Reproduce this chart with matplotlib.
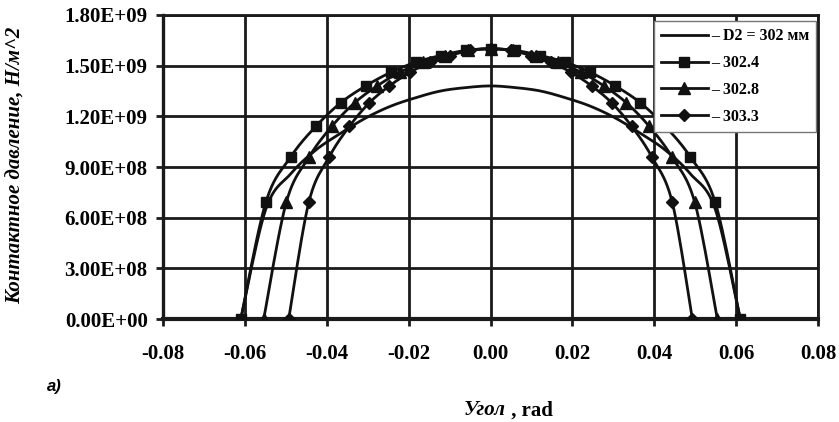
import numpy as np
import matplotlib
matplotlib.use("Agg")
import matplotlib.pyplot as plt

# values
sq_x = [-0.0610, -0.0549, -0.0488, -0.0427, -0.0366, -0.0305, -0.0244, -0.0183, -0.0122, -0.0061, 0.0,
        0.0061, 0.0122, 0.0183, 0.0244, 0.0305, 0.0366, 0.0427, 0.0488, 0.0549, 0.0610]
tri_x = [-0.0554, -0.0499, -0.0443, -0.0388, -0.0332, -0.0277, -0.0222, -0.0166, -0.0111, -0.0055, 0.0,
         0.0055, 0.0111, 0.0166, 0.0222, 0.0277, 0.0332, 0.0388, 0.0443, 0.0499, 0.0554]
dia_x = [-0.0493, -0.0444, -0.0394, -0.0345, -0.0296, -0.0247, -0.0197, -0.0148, -0.0099, -0.0049, 0.0,
         0.0049, 0.0099, 0.0148, 0.0197, 0.0247, 0.0296, 0.0345, 0.0394, 0.0444, 0.0493]

p_302 = [0, 6.5e8, 8.6e8, 1.00e9, 1.10e9, 1.19e9, 1.26e9, 1.31e9, 1.35e9, 1.37e9, 1.38e9,
         1.37e9, 1.35e9, 1.31e9, 1.26e9, 1.19e9, 1.10e9, 1.00e9, 8.6e8, 6.5e8, 0]
p_3024 = [0, 6.9e8, 9.6e8, 1.14e9, 1.28e9, 1.38e9, 1.46e9, 1.52e9, 1.56e9, 1.59e9, 1.60e9,
          1.59e9, 1.56e9, 1.52e9, 1.46e9, 1.38e9, 1.28e9, 1.14e9, 9.6e8, 6.9e8, 0]
p_3028 = [0, 6.9e8, 9.6e8, 1.14e9, 1.28e9, 1.38e9, 1.46e9, 1.52e9, 1.56e9, 1.59e9, 1.60e9,
          1.59e9, 1.56e9, 1.52e9, 1.46e9, 1.38e9, 1.28e9, 1.14e9, 9.6e8, 6.9e8, 0]
p_3033 = [0, 6.9e8, 9.6e8, 1.14e9, 1.28e9, 1.38e9, 1.46e9, 1.52e9, 1.56e9, 1.59e9, 1.60e9,
          1.59e9, 1.56e9, 1.52e9, 1.46e9, 1.38e9, 1.28e9, 1.14e9, 9.6e8, 6.9e8, 0]

labels = ["\u2013 D2 = 302 \u043c\u043c", "\u2013 302.4", "\u2013 302.8", "\u2013 303.3"]
xticks = [-0.08, -0.06, -0.04, -0.02, 0.0, 0.02, 0.04, 0.06, 0.08]
yticks = [0, 3e8, 6e8, 9e8, 1.2e9, 1.5e9, 1.8e9]
ytick_labels = ["0.00E+00", "3.00E+08", "6.00E+08", "9.00E+08", "1.20E+09", "1.50E+09", "1.80E+09"]


def smooth(x, y, n=12):
    # catmull-rom like excel smoothed lines
    x = np.asarray(x, float); y = np.asarray(y, float)
    px = np.r_[x[0], x, x[-1]]; py = np.r_[y[0], y, y[-1]]
    ox, oy = [], []
    t = np.linspace(0, 1, n, endpoint=False)
    for i in range(1, len(px) - 2):
        for a, o in ((px, ox), (py, oy)):
            p0, p1, p2, p3 = a[i - 1], a[i], a[i + 1], a[i + 2]
            o.extend(0.5 * (2 * p1 + (-p0 + p2) * t + (2 * p0 - 5 * p1 + 4 * p2 - p3) * t ** 2
                            + (-p0 + 3 * p1 - 3 * p2 + p3) * t ** 3))
    ox.append(x[-1]); oy.append(y[-1])
    return ox, oy


serif = "Liberation Serif"
fig = plt.figure(figsize=(8.39, 4.22), dpi=100)
ax = fig.add_axes([0.1943, 0.244, 0.7807, 0.7205])

series = [(sq_x, p_302, None, 0), (sq_x, p_3024, "s", 7.5), (tri_x, p_3028, "^", 8.5), (dia_x, p_3033, "D", 6.5)]
for (xs, ys, mk, ms), lab in zip(series, labels):
    sx, sy = smooth(xs, ys)
    ax.plot(sx, sy, color="#111111", lw=2.0, zorder=3)
    ax.plot([], [], color="#111111", lw=2.0, marker=mk, ms=ms, label=lab)
    if mk:
        ax.plot(xs, ys, ls="none", marker=mk, ms=ms, color="#111111", zorder=4)

ax.set_xlim(-0.08, 0.08)
ax.set_ylim(0, 1.8e9)
ax.set_xticks(xticks)
ax.set_yticks(yticks)
ax.set_xticklabels(["%.2f" % v for v in xticks])
ax.set_yticklabels(ytick_labels)
ax.grid(True, color="#1a1a1a", lw=2.0)
ax.set_axisbelow(True)
for s in ax.spines.values():
    s.set_color("#1a1a1a"); s.set_linewidth(2.0)
ax.spines["bottom"].set_linewidth(3.0)
ax.spines["left"].set_linewidth(2.4)
ax.tick_params(direction="out", length=5, width=2, color="#1a1a1a", pad=6)
ax.tick_params(axis="x", pad=13)
for t in ax.get_xticklabels() + ax.get_yticklabels():
    t.set_fontfamily(serif); t.set_fontweight("bold"); t.set_fontsize(15)

leg = ax.legend(loc="upper left", bbox_to_anchor=(0.7496, 0.980), borderaxespad=0,
                prop={"family": serif, "weight": "bold", "size": 11.5}, handlelength=2.9,
                handletextpad=0.2, labelspacing=0.68, fancybox=False, framealpha=1,
                borderpad=0.45)
leg.get_frame().set_edgecolor("#777777")
leg.get_frame().set_linewidth(1.0)
leg.set_zorder(10)

fig.text(0.019, 0.609, "Контактное давление, Н/м^2", rotation=90, ha="center", va="center",
         fontfamily=serif, fontweight="bold", fontstyle="italic", fontsize=15)
fig.text(0.603, 0.028, "Угол", ha="right", va="center", fontfamily=serif,
         fontweight="bold", fontstyle="italic", fontsize=15)
fig.text(0.603, 0.028, " , rad", ha="left", va="center", fontfamily=serif,
         fontweight="bold", fontsize=15)
fig.text(0.056, 0.083, "a)", ha="left", va="center", fontfamily="Liberation Sans",
         fontweight="bold", fontstyle="italic", fontsize=12)

fig.savefig("out.png", dpi=100)
